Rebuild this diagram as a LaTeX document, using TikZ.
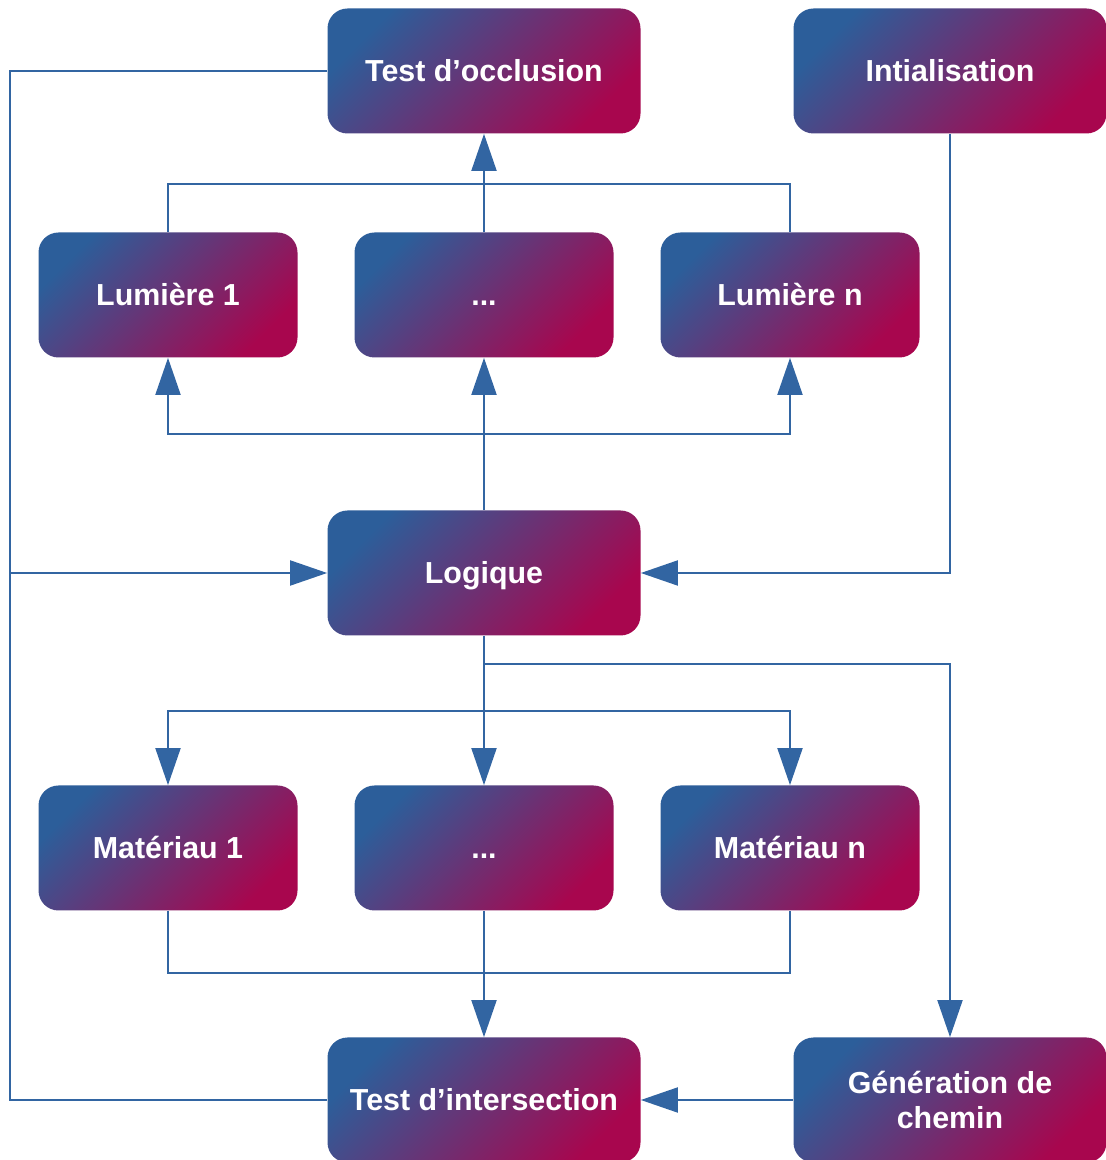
\documentclass[tikz,border=0pt]{standalone}
\usepackage{fontspec}
\setmainfont{Liberation Sans}
\usepackage{tikz}
\usetikzlibrary{arrows.meta}

\definecolor{gradblue}{RGB}{44,94,154}
\definecolor{gradred}{RGB}{168,6,78}
\definecolor{linkblue}{RGB}{50,101,162}

\tikzset{
  bloc/.style={rounded corners=0.4cm, top color=gradblue, bottom color=gradred, shading angle=45,
    minimum width=6.26cm, minimum height=2.5cm, text=white, align=center,
    font=\fontsize{17.3}{19.5}\selectfont\bfseries},
  ligne/.style={bloc, text height=12.4pt, text depth=0pt},
  petitbloc/.style={ligne, minimum width=5.18cm},
  link/.style={draw=linkblue, line width=1.1pt},
  arrow/.style={link, -{Triangle[length=0.74cm, width=0.5cm]}}
}

\begin{document}
\begin{tikzpicture}

\useasboundingbox (0,0) rectangle (22.1,23.2);

\node[ligne] (occl) at (9.68,21.78) {Test d’occlusion};
\node[ligne] (init) at (19.0,21.78) {Intialisation};
\node[petitbloc] (lum1) at (3.36,17.3) {Lumière 1};
\node[petitbloc] (lumdots) at (9.68,17.3) {...};
\node[petitbloc] (lumn) at (15.8,17.3) {Lumière n};
\node[ligne] (logique) at (9.68,11.74) {Logique};
\node[petitbloc] (mat1) at (3.36,6.24) {Matériau 1};
\node[petitbloc] (matdots) at (9.68,6.24) {...};
\node[petitbloc] (matn) at (15.8,6.24) {Matériau n};
\node[ligne] (inter) at (9.68,1.2) {Test d’intersection};
\node[bloc] (chemin) at (19.0,1.2) {Génération de\\chemin};

\coordinate (lumbus) at (9.68,19.52);
\coordinate (upbus) at (9.68,14.52);
\coordinate (chembus) at (9.68,9.92);
\coordinate (downbus) at (9.68,8.98);
\coordinate (matbus) at (9.68,3.74);
\coordinate (railtop) at (0.2,21.78);
\coordinate (railmid) at (0.2,11.74);
\coordinate (railbot) at (0.2,1.2);

% lumieres -> occlusion
\draw[link] (lum1.north) |- (lumbus) -| (lumn.north);
\draw[arrow] (lumdots.north) -- (occl.south);

% logique -> lumieres
\draw[arrow] (logique.north) -- (lumdots.south);
\draw[arrow] (upbus) -| (lum1.south);
\draw[arrow] (upbus) -| (lumn.south);

\draw[arrow] (init.south) |- (logique.east);

% retour par la gauche
\draw[link] (occl.west) -- (railtop) -- (railbot) -- (inter.west);
\draw[arrow] (railmid) -- (logique.west);

% logique -> materiaux
\draw[arrow] (logique.south) -- (matdots.north);
\draw[arrow] (downbus) -| (mat1.north);
\draw[arrow] (downbus) -| (matn.north);
\draw[arrow] (chembus) -| (chemin.north);

% materiaux -> intersection
\draw[link] (mat1.south) |- (matbus) -| (matn.south);
\draw[arrow] (matdots.south) -- (inter.north);
\draw[arrow] (chemin.west) -- (inter.east);

\end{tikzpicture}
\end{document}
